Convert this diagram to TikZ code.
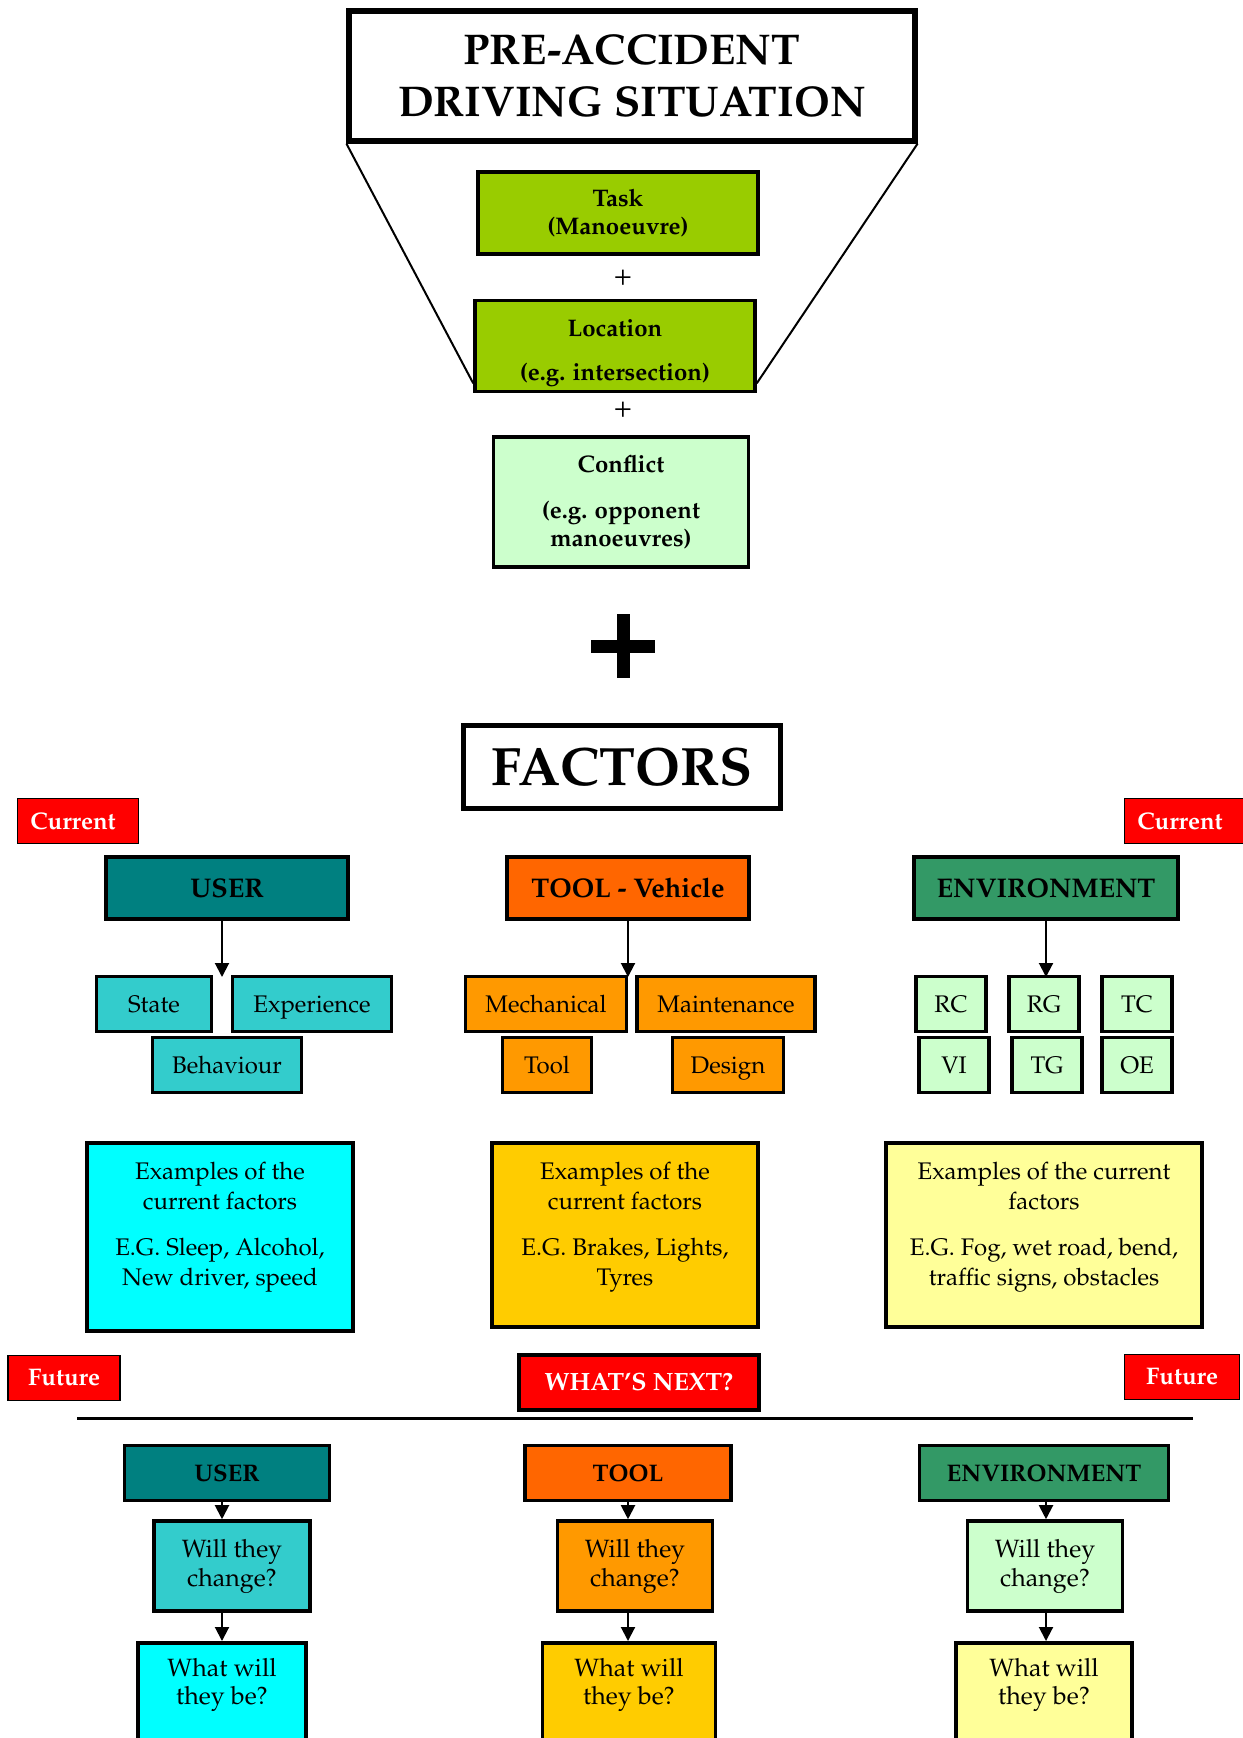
\documentclass[tikz,border=0pt]{standalone}
\usepackage[T1]{fontenc}
\usepackage{mathpazo}
\usetikzlibrary{arrows.meta}

\definecolor{taskcol}{HTML}{99CC00}
\definecolor{usercol}{HTML}{008080}
\definecolor{usersub}{HTML}{33CCCC}
\definecolor{toolcol}{HTML}{FF6600}
\definecolor{toolsub}{HTML}{FF9900}
\definecolor{envcol}{HTML}{339966}
\definecolor{envsub}{HTML}{CCFFCC}
\definecolor{exuser}{HTML}{00FFFF}
\definecolor{extool}{HTML}{FFCC00}
\definecolor{exenv}{HTML}{FFFF99}

\begin{document}
\begin{tikzpicture}[x=0.5pt, y=-0.5pt,
    sz/.style 2 args={minimum width=#1*0.5pt, minimum height=#2*0.5pt},
    box/.style={draw, line width=1.8pt, inner sep=0pt, align=center,
      font=\fontsize{12}{14.5}\selectfont},
    item/.style={box, text height=8.6pt, text depth=0pt},
    bbox/.style={box, font=\bfseries\fontsize{12}{14}\selectfont},
    head/.style={box, font=\bfseries\fontsize{13.5}{16}\selectfont},
    tag/.style={draw, line width=0.8pt, fill=red, text=white, inner sep=0pt,
      font=\bfseries\fontsize{12}{14}\selectfont},
    toplbl/.style={anchor=north, yshift=-8.5pt, align=center, inner sep=0pt,
      font=\fontsize{12}{15}\selectfont},
    arr/.style={-{Triangle[width=7pt,length=7pt]}, line width=1pt},
  ]
  \useasboundingbox (0,0) rectangle (1242,1738);

  % driving situation
  \node[box, line width=2.6pt, sz={566}{130},
    font=\bfseries\fontsize{21.5}{26}\selectfont] (title) at (632,76)
    {PRE-ACCIDENT\\DRIVING SITUATION};
  \node[bbox, fill=taskcol, sz={280}{82}] (task) at (618,213) {Task\\(Manoeuvre)};
  \node[font=\fontsize{15}{15}\selectfont] (plusA) at (623,278) {+};
  \node[bbox, fill=taskcol, sz={280}{91}] (loc) at (615,346)
    {\rule{0pt}{16pt}Location\\[8pt](e.g. intersection)};
  \node[font=\fontsize{15}{15}\selectfont] (plusB) at (623,410) {+};
  \node[bbox, fill=envsub, sz={255}{130}]
    (confl) at (621,502) {Conflict\\[9pt](e.g. opponent\\manoeuvres)};
  \draw[line width=1pt] (title.south west) -- ([yshift=5pt]loc.south west);
  \draw[line width=1pt] (title.south east) -- ([yshift=5pt]loc.south east);

  \draw[line width=6.5pt] (591,646) -- (655,646) (623,614) -- (623,678);

  \node[box, line width=2.6pt, sz={317}{83}, font=\bfseries\fontsize{27}{32}\selectfont]
    (factors) at (622,767) {FACTORS};

  % current
  \node[tag, sz={121}{45}] (curL) at (78,821) {Current\kern5pt};
  \node[tag, sz={121}{45}] (curR) at (1185,821) {Current\kern5pt};

  \node[head, fill=usercol, sz={242}{62}] (user) at (227,888) {USER};
  \node[head, fill=toolcol, sz={242}{62}] (tool) at (628,888) {TOOL - Vehicle};
  \node[head, fill=envcol, sz={264}{62}] (env) at (1046,888) {ENVIRONMENT};

  \node[item, fill=usersub, sz={115}{55}] (state) at (154,1004) {State};
  \node[item, fill=usersub, sz={159}{55}] (exper) at (312,1004) {Experience};
  \node[item, fill=usersub, sz={149}{55}] (behav) at (227,1065) {Behaviour};

  \node[item, fill=toolsub, sz={161}{55}] (mech) at (546,1004) {Mechanical};
  \node[item, fill=toolsub, sz={178}{55}] (maint) at (726,1004) {Maintenance};
  \node[item, fill=toolsub, sz={89}{55}] (tooltl) at (547,1065) {Tool};
  \node[item, fill=toolsub, sz={111}{55}] (design) at (728,1065) {Design};

  \node[item, fill=envsub, sz={70}{55}] (rc) at (951,1004) {RC};
  \node[item, fill=envsub, sz={70}{55}] (rg) at (1044,1004) {RG};
  \node[item, fill=envsub, sz={70}{55}] (tc) at (1137,1004) {TC};
  \node[item, fill=envsub, sz={70}{55}] (vi) at (954,1065) {VI};
  \node[item, fill=envsub, sz={70}{55}] (tg) at (1047,1065) {TG};
  \node[item, fill=envsub, sz={70}{55}] (oe) at (1137,1065) {OE};

  \coordinate (uTip) at (222,977);
  \coordinate (tTip) at (628,977);
  \coordinate (eTip) at (1046,977);
  \draw[arr] (user.south -| uTip) -- (uTip);
  \draw[arr] (tool.south -| tTip) -- (tTip);
  \draw[arr] (env.south -| eTip) -- (eTip);

  \node[box, fill=exuser, sz={266}{188}, label={[toplbl, yshift=-2pt]north:{Examples of the\\current
    factors\\[8pt]E.G. Sleep, Alcohol,\\New driver, speed}}] (exUser) at (220,1237) {};
  \node[box, fill=extool, sz={266}{184}, label={[toplbl, yshift=-2pt]north:{Examples of the\\current
    factors\\[8pt]E.G. Brakes, Lights,\\Tyres}}] (exTool) at (625,1235) {};
  \node[box, fill=exenv, sz={316}{184}, label={[toplbl, yshift=-2pt]north:{Examples of the current\\
    factors\\[8pt]E.G. Fog, wet road, bend,\\traffic signs, obstacles}}] (exEnv) at (1044,1235) {};

  % future
  \node[tag, sz={112}{45}] (futL) at (64,1378) {Future};
  \node[tag, line width=2pt, sz={240}{55}, font=\bfseries\fontsize{12.5}{15}\selectfont]
    (next) at (639,1382) {WHAT'S NEXT?};
  \node[tag, sz={115}{45}] (futR) at (1182,1377) {Future};
  \draw[line width=1.5pt] (77,1418) -- (1193,1418);

  \node[head, fill=usercol, sz={205}{55}, font=\bfseries\fontsize{12}{14}\selectfont]
    (userB) at (227,1473) {USER};
  \node[box, fill=usersub, sz={156}{90}, font=\fontsize{12.5}{14.5}\selectfont]
    (willU) at (232,1566) {Will they\\change?};
  \node[box, fill=exuser, anchor=north, sz={168}{150},
    label={[toplbl, font=\fontsize{12.5}{14}\selectfont]north:{What will\\they be?}}]
    (whatU) at (222,1641) {};
  \draw[arr] (userB.south -| whatU) -- (willU.north -| whatU);
  \draw[arr] (willU.south -| whatU) -- (whatU.north);

  \node[head, fill=toolcol, sz={206}{55}, font=\bfseries\fontsize{12}{14}\selectfont]
    (toolB) at (628,1473) {TOOL};
  \node[box, fill=toolsub, sz={155}{90}, font=\fontsize{12.5}{14.5}\selectfont]
    (willT) at (635,1566) {Will they\\change?};
  \node[box, fill=extool, anchor=north, sz={173}{150},
    label={[toplbl, font=\fontsize{12.5}{14}\selectfont]north:{What will\\they be?}}]
    (whatT) at (629,1641) {};
  \draw[arr] (toolB.south -| toolB) -- (willT.north -| toolB);
  \draw[arr] (willT.south -| toolB) -- (whatT.north -| toolB);

  \node[head, fill=envcol, sz={249}{55}, font=\bfseries\fontsize{12}{14}\selectfont]
    (envB) at (1044,1473) {ENVIRONMENT};
  \node[box, fill=envsub, sz={155}{90}, font=\fontsize{12.5}{14.5}\selectfont]
    (willE) at (1045,1566) {Will they\\change?};
  \node[box, fill=exenv, anchor=north, sz={176}{150},
    label={[toplbl, font=\fontsize{12.5}{14}\selectfont]north:{What will\\they be?}}]
    (whatE) at (1044,1641) {};
  \draw[arr] (envB.south -| eTip) -- (willE.north -| eTip);
  \draw[arr] (willE.south -| eTip) -- (whatE.north -| eTip);
\end{tikzpicture}
\end{document}
